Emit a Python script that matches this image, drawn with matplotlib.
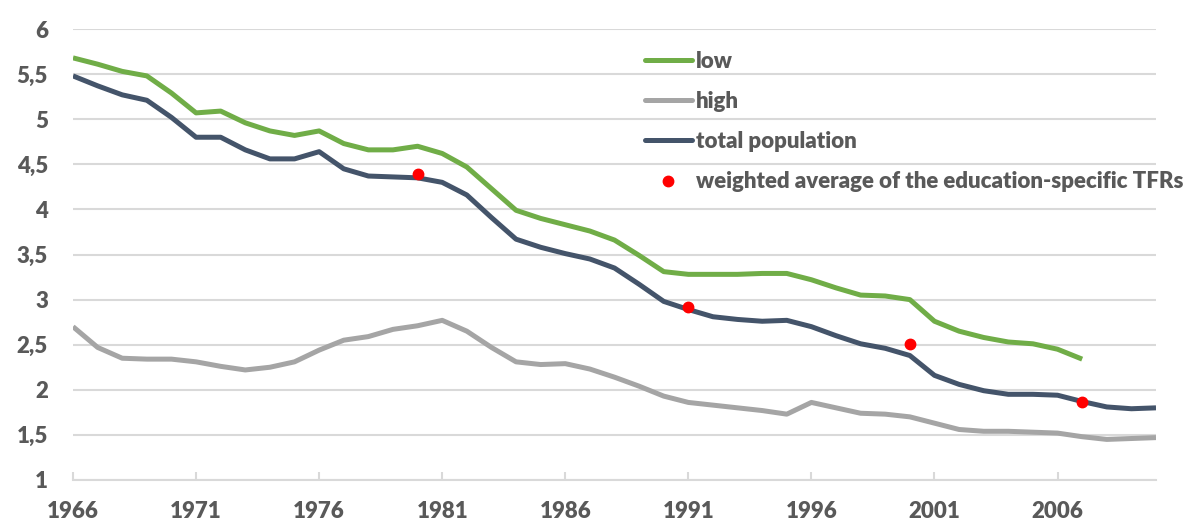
import matplotlib
matplotlib.use("Agg")
import matplotlib.pyplot as plt
from matplotlib.ticker import FuncFormatter, MultipleLocator
from matplotlib.lines import Line2D

years = list(range(1966, 2011))
low = [5.68, 5.61, 5.53, 5.48, 5.29, 5.07, 5.09, 4.96, 4.87, 4.82, 4.87, 4.73, 4.66, 4.66,
       4.70, 4.62, 4.47, 4.23, 3.99, 3.90, 3.83, 3.76, 3.66, 3.49, 3.31, 3.28, 3.28, 3.28,
       3.29, 3.29, 3.22, 3.13, 3.05, 3.04, 3.00, 2.76, 2.65, 2.58, 2.53, 2.51, 2.45, 2.34]
high = [2.70, 2.47, 2.35, 2.34, 2.34, 2.31, 2.26, 2.22, 2.25, 2.31, 2.44, 2.55, 2.59, 2.67,
        2.71, 2.77, 2.65, 2.47, 2.31, 2.28, 2.29, 2.23, 2.14, 2.04, 1.93, 1.86, 1.83, 1.80,
        1.77, 1.73, 1.86, 1.80, 1.74, 1.73, 1.70, 1.63, 1.56, 1.54, 1.54, 1.53, 1.52, 1.48,
        1.45, 1.46, 1.47]
total = [5.48, 5.37, 5.27, 5.21, 5.02, 4.80, 4.80, 4.66, 4.56, 4.56, 4.64, 4.45, 4.37, 4.36,
         4.35, 4.30, 4.16, 3.91, 3.67, 3.58, 3.51, 3.45, 3.35, 3.17, 2.98, 2.89, 2.81, 2.78,
         2.76, 2.77, 2.70, 2.60, 2.51, 2.46, 2.38, 2.16, 2.06, 1.99, 1.95, 1.95, 1.94, 1.87,
         1.81, 1.79, 1.80]
wavg_years = [1980, 1991, 2000, 2007]
wavg = [4.39, 2.92, 2.51, 1.87]
xtick_years = list(range(1966, 2007, 5))
labels = ["low", "high", "total population", "weighted average of the education-specific TFRs"]

C_LOW = "#70AD47"
C_HIGH = "#A5A5A5"
C_TOT = "#44546A"
C_DOT = "#FF0000"
TXT = "#595959"
GRID = "#D9D9D9"

plt.rcParams['font.family'] = ['Lato', 'DejaVu Sans']
plt.rcParams['font.weight'] = 'heavy'

fig = plt.figure(figsize=(11.88, 5.27), dpi=100)
ax = fig.add_axes([73/1188, 47/527, (1156-73)/1188, (480-29)/527])

lw = 3.6
ax.plot(years[:len(low)], low, color=C_LOW, lw=lw, solid_joinstyle='round', solid_capstyle='butt', zorder=3)
ax.plot(years, high, color=C_HIGH, lw=lw, solid_joinstyle='round', solid_capstyle='butt', zorder=3)
ax.plot(years, total, color=C_TOT, lw=lw, solid_joinstyle='round', solid_capstyle='butt', zorder=3)
ax.plot(wavg_years, wavg, linestyle='none', marker='o', ms=7.5, color=C_DOT, mec=C_DOT, zorder=4)

ax.set_xlim(1966, 2010)
ax.set_ylim(1, 6)
ax.yaxis.set_major_locator(MultipleLocator(0.5))
ax.yaxis.set_major_formatter(FuncFormatter(lambda v, p: (f"{v:g}").replace(".", ",")))
ax.set_xticks(xtick_years)
ax.set_xticklabels([str(y) for y in xtick_years])
ax.grid(axis='y', color=GRID, lw=1.5, zorder=0)
ax.set_axisbelow(True)
for s in ['left', 'right', 'top']:
    ax.spines[s].set_visible(False)
ax.spines['bottom'].set_color(GRID)
ax.spines['bottom'].set_linewidth(1.5)
ax.tick_params(axis='y', length=0, pad=18, labelsize=16, labelcolor=TXT)
ax.tick_params(axis='x', direction='in', length=6, width=1.5, color=GRID, pad=15, labelsize=16, labelcolor=TXT)

handles = [
    Line2D([], [], color=C_LOW, lw=lw, solid_capstyle='round'),
    Line2D([], [], color=C_HIGH, lw=lw, solid_capstyle='round'),
    Line2D([], [], color=C_TOT, lw=lw, solid_capstyle='round'),
    Line2D([], [], linestyle='none', marker='o', ms=7.5, color=C_DOT),
]
leg = fig.legend(handles, labels, loc='upper left', bbox_to_anchor=(645/1188, 1 - 51/527),
                 frameon=False, fontsize=16, handlelength=2.1, handletextpad=0.2,
                 labelspacing=0.86, borderaxespad=0, borderpad=0)
for t in leg.get_texts():
    t.set_color(TXT)
    t.set_fontweight('heavy')

fig.savefig("out.png", dpi=100)
